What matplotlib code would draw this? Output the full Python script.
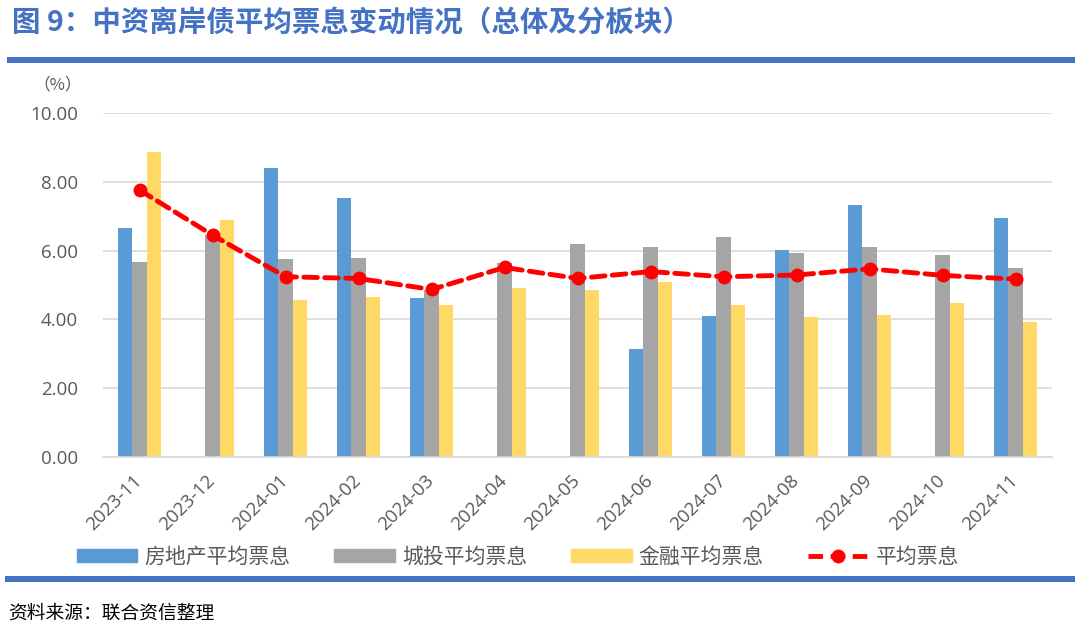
import numpy as np
import matplotlib
matplotlib.use("Agg")
import matplotlib.pyplot as plt
import matplotlib.transforms as mtransforms
from matplotlib.patches import Patch, Rectangle
from matplotlib.lines import Line2D

plt.rcParams['font.family'] = ['Noto Sans CJK SC', 'DejaVu Sans']

categories = ['2023-11', '2023-12', '2024-01', '2024-02', '2024-03', '2024-04', '2024-05',
              '2024-06', '2024-07', '2024-08', '2024-09', '2024-10', '2024-11']
real_estate = [6.66, np.nan, 8.39, 7.52, 4.61, np.nan, np.nan, 3.13, 4.11, 6.02, 7.32, np.nan, 6.96]
lgfv = [5.67, 6.45, 5.75, 5.79, 4.85, 5.63, 6.19, 6.11, 6.39, 5.92, 6.10, 5.87, 5.49]
financial = [8.87, 6.89, 4.55, 4.65, 4.42, 4.90, 4.85, 5.08, 4.41, 4.08, 4.13, 4.48, 3.93]
average = [7.76, 6.45, 5.24, 5.19, 4.87, 5.51, 5.19, 5.39, 5.24, 5.29, 5.47, 5.28, 5.17]
yticks = [0, 2, 4, 6, 8, 10]
series_names = ['房地产平均票息', '城投平均票息', '金融平均票息', '平均票息']

c_blue = '#5b9bd5'
c_gray = '#a5a5a5'
c_yellow = '#ffd966'
c_red = '#ff0000'
c_title = '#4472c4'
c_text = '#595959'

fig = plt.figure(figsize=(10.8, 6.31), dpi=100)
ax = fig.add_axes([103/1080, 1 - 457/631, (1052-103)/1080, (457-113)/631])

x = np.arange(len(categories))
w = 0.195
ax.bar(x - w, real_estate, w, color=c_blue, zorder=2)
ax.bar(x, lgfv, w, color=c_gray, zorder=2)
ax.bar(x + w, financial, w, color=c_yellow, zorder=2)
ax.plot(x, average, color=c_red, lw=3.5, dashes=(2.8, 1.5), marker='o', markersize=9,
        zorder=3, dash_capstyle='round')

ax.set_xlim(-0.5, len(categories) - 0.5)
ax.set_ylim(0, 10)
ax.set_yticks(yticks)
ax.set_yticklabels([f'{v:.2f}' for v in yticks], fontsize=13.5, color=c_text,
                   family=['Open Sans', 'DejaVu Sans'])
ax.set_xticks(x)
ax.set_xticklabels(categories, rotation=45, ha='right', va='center', rotation_mode='anchor',
                   fontsize=13.5, color=c_text, family=['Open Sans', 'DejaVu Sans'])
ax.tick_params(axis='y', length=0, pad=18)
ax.tick_params(axis='x', length=0, pad=12)
offset = mtransforms.ScaledTranslation(0 / 100, -4 / 100, fig.dpi_scale_trans)
for lab in ax.get_xticklabels():
    lab.set_transform(lab.get_transform() + offset)
ax.grid(axis='y', color='#d9d9d9', lw=1.2, zorder=0)
for s in ['top', 'right', 'left']:
    ax.spines[s].set_visible(False)
ax.spines['bottom'].set_color('#d9d9d9')
ax.spines['bottom'].set_linewidth(1.2)

fig.text(58/1080, 1 - 85/631, '（%）', fontsize=12, color=c_text, ha='center', va='center')

# Title and decorative rules
fig.text(12/1080, 1 - 23/631, '图 9：中资离岸债平均票息变动情况（总体及分板块）', fontsize=20.5,
         fontweight='bold', color=c_title, ha='left', va='center')
fig.add_artist(Rectangle((7/1080, 1 - 63/631), (1075-7)/1080, 6/631, transform=fig.transFigure,
                         color=c_title, lw=0))
fig.add_artist(Rectangle((5/1080, 1 - 582/631), (1075-5)/1080, 6/631, transform=fig.transFigure,
                         color=c_title, lw=0))
fig.text(8/1080, 1 - 613/631, '资料来源：联合资信整理', fontsize=13.5, color='#000000',
         ha='left', va='center')

handles = [Patch(color=c_blue), Patch(color=c_gray), Patch(color=c_yellow),
           Line2D([0], [0], color=c_red, lw=3.5, dashes=(3.0, 1.55), marker='o', markersize=9)]
fig.legend(handles, series_names, loc='center', bbox_to_anchor=(518/1080, 1 - 557/631), ncol=4,
           frameon=False, fontsize=15, handlelength=2.9, handleheight=0.55,
           columnspacing=2.1, handletextpad=0.35, labelcolor=c_text)

fig.savefig('out.png', dpi=100)
